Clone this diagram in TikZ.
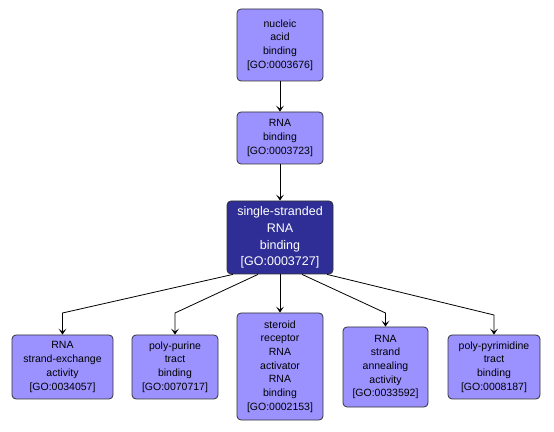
\documentclass[tikz,border=0pt]{standalone}
\usepackage{fontspec}
\setmainfont{Liberation Sans}
\usetikzlibrary{arrows.meta,calc}
\definecolor{goFill}{RGB}{155,145,255}
\definecolor{goDark}{RGB}{46,46,150}
\begin{document}
\begin{tikzpicture}[x=1pt,y=1pt,
  gobox/.style={draw=black!80,line width=0.8pt,rounded corners=4pt,fill=goFill,align=center,inner sep=0pt,
    font=\fontsize{10.5}{13.7}\selectfont},
  gomain/.style={gobox,fill=goDark,text=white,font=\fontsize{12.5}{16.7}\selectfont},
  conn/.style={draw=black,line width=0.8pt,-{Stealth[length=6pt,width=8pt,inset=3pt]}}]
\useasboundingbox (0,0) rectangle (554,431);
\node[gobox,minimum width=86pt,minimum height=72pt] (n1) at (280,386) {nucleic\\acid\\binding\\{[GO:0003676]}};
\node[gobox,minimum width=86pt,minimum height=52pt] (n2) at (280,293) {RNA\\binding\\{[GO:0003723]}};
\node[gomain,minimum width=106pt,minimum height=73pt] (n3) at (280,193.5) {single-stranded\\RNA\\binding\\{[GO:0003727]}};
\node[gobox,minimum width=101pt,minimum height=64pt] (b1) at (62.5,64) {RNA\\strand-exchange\\activity\\{[GO:0034057]}};
\node[gobox,minimum width=86pt,minimum height=64pt] (b2) at (175,64) {poly-purine\\tract\\binding\\{[GO:0070717]}};
\node[gobox,minimum width=86pt,minimum height=107pt] (b3) at (280,64.5) {steroid\\receptor\\RNA\\activator\\RNA\\binding\\{[GO:0002153]}};
\node[gobox,minimum width=85pt,minimum height=80pt] (b4) at (385.5,64) {RNA\\strand\\annealing\\activity\\{[GO:0033592]}};
\node[gobox,minimum width=92pt,minimum height=64pt] (b5) at (494,64) {poly-pyrimidine\\tract\\binding\\{[GO:0008187]}};
\coordinate (k1) at (62.5,118);
\coordinate (k2) at (175,118);
\coordinate (k4) at (385.5,118);
\coordinate (k5) at (494,116);
\draw[conn] (n1) -- (n2);
\draw[conn] (n2) -- (n3);
\draw[conn] ([xshift=-47pt]n3.south) -- (k1) -- (b1.north);
\draw[conn] ([xshift=-22pt]n3.south) -- (k2) -- (b2.north);
\draw[conn] (n3) -- (b3);
\draw[conn] ([xshift=22pt]n3.south) -- (k4) -- (b4.north);
\draw[conn] ([xshift=47pt]n3.south) -- (k5) -- (b5.north);
\end{tikzpicture}
\end{document}
